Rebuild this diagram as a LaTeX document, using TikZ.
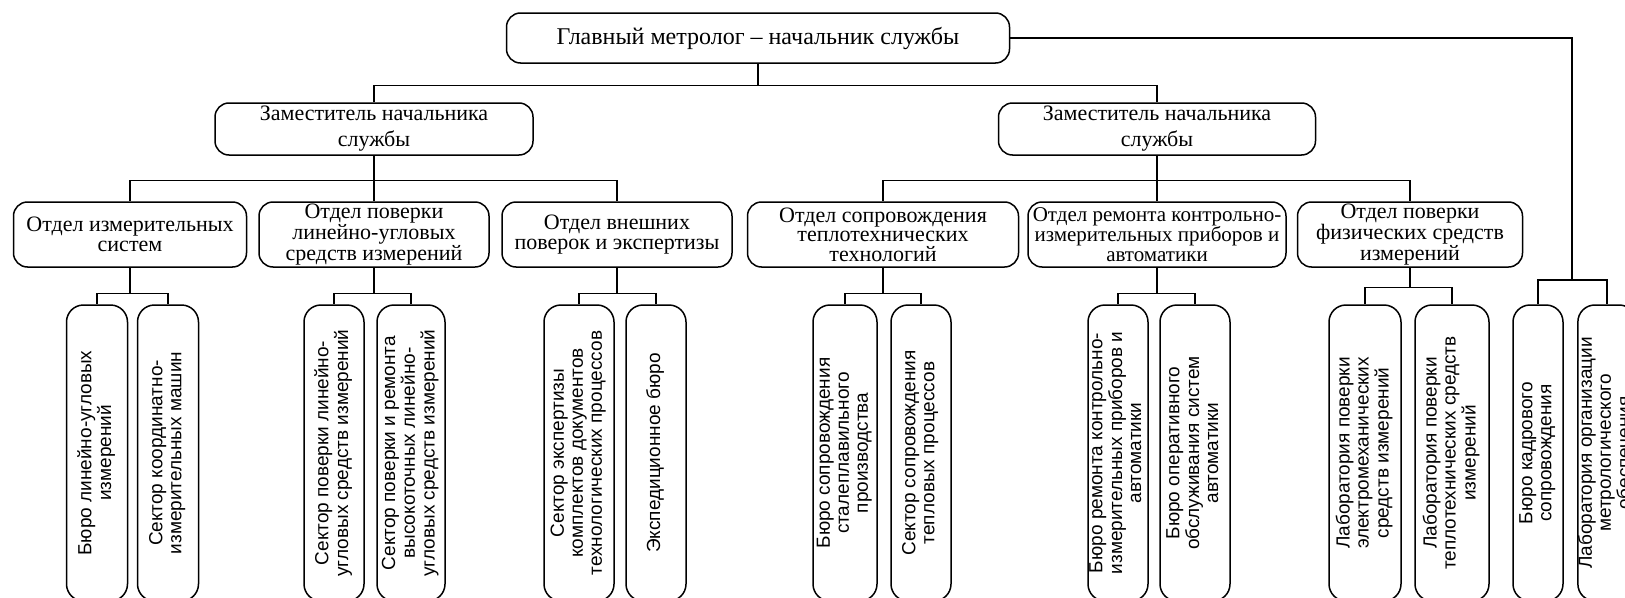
\documentclass[tikz,border=0pt]{standalone}
\usepackage{fontspec}
\setmainfont{Liberation Serif}
\newfontfamily\vfont{Liberation Sans}
\usepackage{graphicx}
\newcommand{\vtxt}[1]{\rotatebox{90}{\begin{tabular}{@{}c@{}}#1\end{tabular}}}

\begin{document}
\begin{tikzpicture}[x=1pt, y=-1pt,
  hbox/.style={draw, line width=1.5pt, rounded corners=14pt, align=center, inner sep=0pt, minimum height=65pt, font=\fontsize{22}{19.5}\selectfont},
  vbox/.style={draw, line width=1.5pt, rounded corners=17pt, inner sep=0pt, minimum height=296pt, font=\vfont\fontsize{19}{19}\selectfont},
  link/.style={line width=1.4pt}]
\useasboundingbox (0,0) rectangle (1625,597);
\clip (0,0) rectangle (1625,597);

\node[hbox, minimum width=503pt, minimum height=50pt, font=\fontsize{24}{26}\selectfont] (T) at (758,38) {Главный метролог – начальник службы};
\node[hbox, minimum width=318pt, minimum height=52pt, font=\fontsize{22}{26}\selectfont] (Z1) at (374,129) {Заместитель начальника\\службы};
\node[hbox, minimum width=317pt, minimum height=52pt, font=\fontsize{22}{26}\selectfont] (Z2) at (1157,129) {Заместитель начальника\\службы};

\node[hbox, minimum width=233pt] (D1) at (130,234.5) {Отдел измерительных\\систем};
\node[hbox, minimum width=230pt] (D2) at (374,234.5) {Отдел поверки\\линейно-угловых\\средств измерений};
\node[hbox, minimum width=230pt] (D3) at (617,234.5) {Отдел внешних\\поверок и экспертизы};
\node[hbox, minimum width=271pt] (D4) at (883,234.5) {Отдел сопровождения\\теплотехнических\\технологий};
\node[hbox, minimum width=258pt, font=\fontsize{21}{19.5}\selectfont] (D5) at (1157,234.5) {Отдел ремонта контрольно-\\измерительных приборов и\\автоматики};
\node[hbox, minimum width=225pt] (D6) at (1410,234.5) {Отдел поверки\\физических средств\\измерений};

\node[vbox, minimum width=61pt] (B1) at (97,453) {\vtxt{Бюро линейно-угловых\\измерений}};
\node[vbox, minimum width=61pt] (B2) at (168,453) {\vtxt{Сектор координатно-\\измерительных машин}};
\node[vbox, minimum width=60pt] (B3) at (334,453) {\vtxt{Сектор поверки линейно-\\угловых средств измерений}};
\node[vbox, minimum width=68pt] (B4) at (411,453) {\vtxt{Сектор поверки и ремонта\\высокоточных линейно-\\угловых средств измерений}};
\node[vbox, minimum width=70pt] (B5) at (579,453) {\vtxt{Сектор экспертизы\\комплектов документов\\технологических процессов}};
\node[vbox, minimum width=60pt] (B6) at (656,453) {\vtxt{Экспедиционное бюро}};
\node[vbox, minimum width=64pt] (B7) at (845,453) {\vtxt{Бюро сопровождения\\сталеплавильного\\производства}};
\node[vbox, minimum width=60pt] (B8) at (921,453) {\vtxt{Сектор сопровождения\\тепловых процессов}};
\node[vbox, minimum width=60pt] (B9) at (1118,453) {\vtxt{Бюро ремонта контрольно-\\измерительных приборов и\\автоматики}};
\node[vbox, minimum width=70pt] (B10) at (1195,453) {\vtxt{Бюро оперативного\\обслуживания систем\\автоматики}};
\node[vbox, minimum width=72pt] (B11) at (1365,453) {\vtxt{Лаборатория поверки\\электромеханических\\средств измерений}};
\node[vbox, minimum width=74pt] (B12) at (1452,453) {\vtxt{Лаборатория поверки\\теплотехнических средств\\измерений}};
\node[vbox, minimum width=50pt] (B13) at (1538,453) {\vtxt{Бюро кадрового\\сопровождения}};
\node[vbox, minimum width=58pt] (B14) at (1607,453) {\vtxt{Лаборатория организации\\метрологического\\обеспечения}};
\coordinate (K) at (1572,280);

\draw[link] (T.south) -- ++(0,22) -| (Z1.north);
\draw[link] (T.south) ++(0,22) -| (Z2.north);
\draw[link] (T.east) -| (K) -| (B13.north);
\draw[link] (K) -| (B14.north);
\draw[link] (Z1.south) -- ++(0,25) -| (D1.north);
\draw[link] (Z1.south) -- (D2.north);
\draw[link] (Z1.south) ++(0,25) -| (D3.north);
\draw[link] (Z2.south) -- ++(0,25) -| (D4.north);
\draw[link] (Z2.south) -- (D5.north);
\draw[link] (Z2.south) ++(0,25) -| (D6.north);
\draw[link] (D1.south) -- ++(0,26) -| (B1.north);
\draw[link] (D1.south) ++(0,26) -| (B2.north);
\draw[link] (D2.south) -- ++(0,26) -| (B3.north);
\draw[link] (D2.south) ++(0,26) -| (B4.north);
\draw[link] (D3.south) -- ++(0,26) -| (B5.north);
\draw[link] (D3.south) ++(0,26) -| (B6.north);
\draw[link] (D4.south) -- ++(0,26) -| (B7.north);
\draw[link] (D4.south) ++(0,26) -| (B8.north);
\draw[link] (D5.south) -- ++(0,26) -| (B9.north);
\draw[link] (D5.south) ++(0,26) -| (B10.north);
\draw[link] (D6.south) -- ++(0,20) -| (B11.north);
\draw[link] (D6.south) ++(0,20) -| (B12.north);
\end{tikzpicture}
\end{document}
